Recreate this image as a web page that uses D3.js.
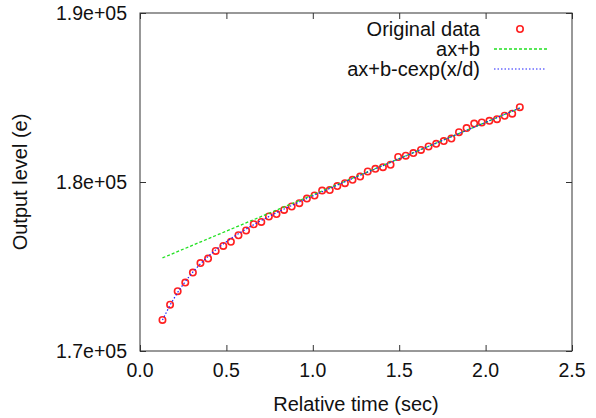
<!DOCTYPE html>
<html>
<head>
<meta charset="utf-8">
<script src="https://cdn.jsdelivr.net/npm/d3@7"></script>
<style>
  body { margin: 0; background: #fff; }
  text { font-family: "Liberation Sans", Arial, sans-serif; fill: #111; }
</style>
</head>
<body>
<div id="chart"></div>
<script>
// measured data (relative time, output level)
var timeSec = [0.130,0.174,0.218,0.262,0.306,0.350,0.394,0.438,0.482,0.526,0.570,0.614,
  0.658,0.702,0.746,0.790,0.834,0.878,0.922,0.966,1.010,1.054,1.098,1.142,1.186,
  1.230,1.274,1.318,1.362,1.406,1.450,1.494,1.538,1.582,1.626,1.670,1.714,1.758,
  1.802,1.846,1.890,1.934,1.978,2.022,2.066,2.110,2.154,2.198];
var outputLevel = [171840,172740,173540,174050,174640,175200,175470,175920,176220,176460,176850,177130,
  177500,177640,177960,178100,178350,178550,178750,179020,179200,179490,179520,179760,179930,
  180130,180320,180620,180780,180880,181020,181480,181560,181710,181900,182100,182260,
  182420,182570,182950,183190,183460,183520,183620,183720,183920,184040,184430];

// fitted lines
var linX = [0.130, 2.198];
var linY = [175508, 184379];
var expX = [0.130,0.174,0.218,0.262,0.306,0.350,0.394,0.438,0.482,0.526,0.570,0.614,
  0.658,0.702,0.746,0.790,0.834,0.878,0.922,0.966,1.2,1.6,2.0,2.198];
var expY = [171835,172718,173470,174115,174675,175164,175595,175982,176331,176650,176943,177218,
  177476,177721,177955,178181,178400,178613,178820,179025,180076,181811,183530,184379];

var xTicks = [0, 0.5, 1.0, 1.5, 2.0, 2.5];
var yTicks = [170000, 180000, 190000];
var legendNames = ["Original data", "ax+b", "ax+b-cexp(x/d)"];

var W = 596, H = 418;
var margin = { top: 13, right: 24, bottom: 67, left: 140 };

var svg = d3.select("#chart").append("svg")
    .attr("width", W)
    .attr("height", H);

var x = d3.scaleLinear().domain([0, 2.5]).range([margin.left, W - margin.right]);
var y = d3.scaleLinear().domain([170000, 190000]).range([H - margin.bottom, margin.top]);

var tickFont = 19.5, labelFont = 20;

// axes: ticks inward, mirrored
var tl = 6;
svg.append("g")
    .attr("transform", "translate(0," + y(170000) + ")")
    .call(d3.axisTop(x).tickValues(xTicks).tickSize(tl).tickFormat(""))
    .call(g => g.select(".domain").remove());
svg.append("g")
    .attr("transform", "translate(0," + y(190000) + ")")
    .call(d3.axisBottom(x).tickValues(xTicks).tickSize(tl).tickFormat(""))
    .call(g => g.select(".domain").remove());
svg.append("g")
    .attr("transform", "translate(" + x(0) + ",0)")
    .call(d3.axisRight(y).tickValues(yTicks).tickSize(tl).tickFormat(""))
    .call(g => g.select(".domain").remove());
svg.append("g")
    .attr("transform", "translate(" + x(2.5) + ",0)")
    .call(d3.axisLeft(y).tickValues(yTicks).tickSize(tl).tickFormat(""))
    .call(g => g.select(".domain").remove());
svg.selectAll(".tick line").attr("stroke", "#333");

// border
svg.append("rect")
    .attr("x", x(0)).attr("y", y(190000))
    .attr("width", x(2.5) - x(0)).attr("height", y(170000) - y(190000))
    .attr("fill", "none").attr("stroke", "#333").attr("stroke-width", 1);

// tick labels
svg.selectAll(".xlab").data(xTicks).enter().append("text")
    .attr("x", d => x(d)).attr("y", y(170000) + 26)
    .attr("text-anchor", "middle")
    .style("font-size", tickFont + "px")
    .text(d => d.toFixed(1));
svg.selectAll(".ylab").data(yTicks).enter().append("text")
    .attr("x", x(0) - 13).attr("y", d => y(d) + 7)
    .attr("text-anchor", "end")
    .style("font-size", tickFont + "px")
    .text(d => (d / 100000).toFixed(1) + "e+05");

// axis titles
svg.append("text")
    .attr("x", (x(0) + x(2.5)) / 2).attr("y", 411)
    .attr("text-anchor", "middle")
    .style("font-size", labelFont + "px")
    .text("Relative time (sec)");
svg.append("text")
    .attr("transform", "translate(27," + y(180000) + ") rotate(-90)")
    .attr("text-anchor", "middle")
    .style("font-size", labelFont + "px")
    .text("Output level (e)");

// data points
svg.selectAll(".dot").data(timeSec).enter().append("circle")
    .attr("cx", d => x(d))
    .attr("cy", (d, i) => y(outputLevel[i]))
    .attr("r", 3.2)
    .attr("fill", "none")
    .attr("stroke", "#ff2020")
    .attr("stroke-width", 1.6);

var line = d3.line().x(d => x(d[0])).y(d => y(d[1]));

svg.append("path")
    .attr("d", line(d3.zip(linX, linY)))
    .attr("fill", "none").attr("stroke", "#22e022")
    .attr("stroke-width", 1.3).attr("stroke-dasharray", "3,2");

svg.append("path")
    .attr("d", line(d3.zip(expX, expY)))
    .attr("fill", "none").attr("stroke", "#2020ff")
    .attr("stroke-width", 1.2).attr("stroke-dasharray", "1.5,2");

// legend
var lg = svg.append("g");
legendNames.forEach(function (name, i) {
  var ly = 29 + i * 20;
  lg.append("text")
      .attr("x", 480).attr("y", ly + 7)
      .attr("text-anchor", "end")
      .style("font-size", labelFont + "px")
      .text(name);
});
lg.append("circle")
    .attr("cx", 520).attr("cy", 29).attr("r", 3.2)
    .attr("fill", "none").attr("stroke", "#ff2020").attr("stroke-width", 1.6);
lg.append("line")
    .attr("x1", 494).attr("x2", 547).attr("y1", 49).attr("y2", 49)
    .attr("stroke", "#22e022").attr("stroke-width", 1.3).attr("stroke-dasharray", "3,2");
lg.append("line")
    .attr("x1", 494).attr("x2", 546).attr("y1", 69).attr("y2", 69)
    .attr("stroke", "#2020ff").attr("stroke-width", 1.2).attr("stroke-dasharray", "1.5,2");
</script>
</body>
</html>
